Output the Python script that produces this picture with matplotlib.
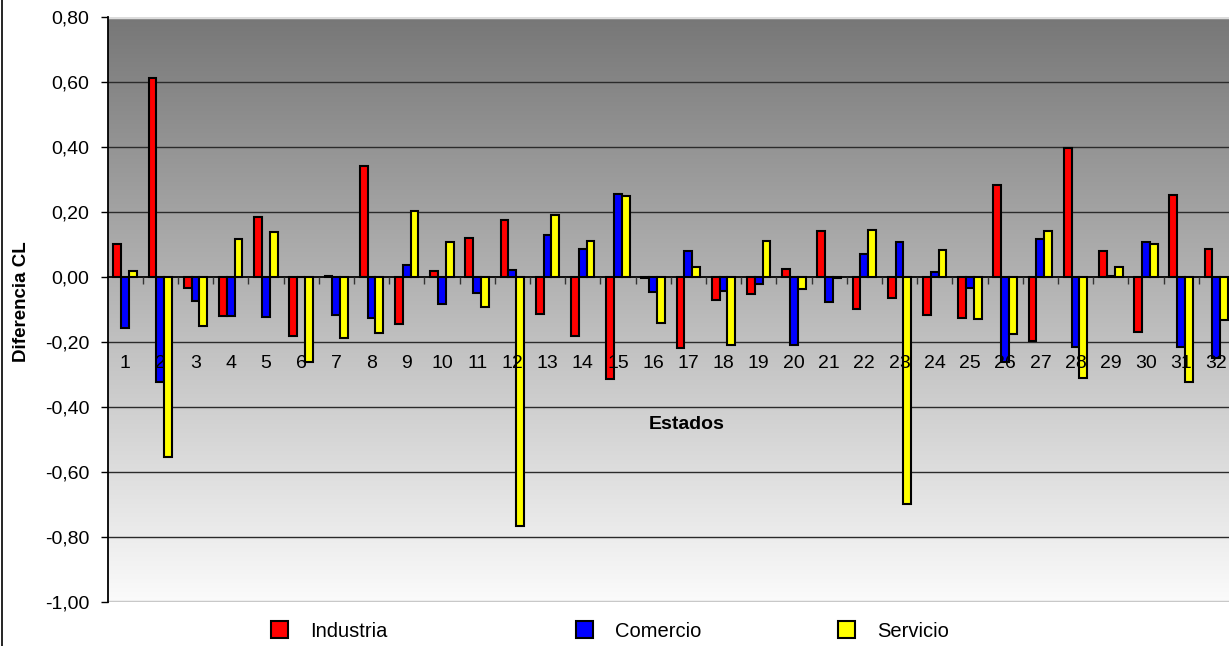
import matplotlib
matplotlib.use("Agg")
import matplotlib.pyplot as plt
import numpy as np
from matplotlib.lines import Line2D
from matplotlib.ticker import FixedLocator, FuncFormatter

estados = [str(i) for i in range(1, 33)]
industria = [0.100, 0.613, -0.034, -0.122, 0.183, -0.181, 0.003, 0.342,
             -0.145, 0.019, 0.120, 0.174, -0.113, -0.183, -0.315, -0.003,
             -0.220, -0.072, -0.054, 0.023, 0.141, -0.100, -0.065, -0.116,
             -0.127, 0.283, -0.196, 0.396, 0.080, -0.170, 0.252, 0.087]
comercio = [-0.156, -0.325, -0.073, -0.122, -0.123, 0.000, -0.118, -0.126,
            0.036, -0.084, -0.049, 0.021, 0.129, 0.086, 0.255, -0.047,
            0.081, -0.045, -0.023, -0.211, -0.078, 0.069, 0.107, 0.016,
            -0.033, -0.262, 0.117, -0.217, 0.003, 0.107, -0.217, -0.251]
servicio = [0.018, -0.554, -0.151, 0.116, 0.138, -0.263, -0.188, -0.174,
            0.203, 0.106, -0.094, -0.766, 0.189, 0.110, 0.249, -0.142,
            0.029, -0.211, 0.110, -0.036, -0.004, 0.144, -0.699, 0.082,
            -0.131, -0.177, 0.142, -0.310, 0.030, 0.102, -0.325, -0.133]
series = ["Industria", "Comercio", "Servicio"]
colores = ["#ff0000", "#0000ff", "#ffff00"]

plt.rcParams["font.family"] = ["Liberation Sans", "DejaVu Sans"]

fig = plt.figure(figsize=(12.29, 6.46), dpi=100)
ax = fig.add_axes([107.5 / 1229, 1 - 601.7 / 646, (1234 - 107.5) / 1229, 584.7 / 646])

ymin, ymax = -1.0, 0.8
ax.set_ylim(ymin, ymax)
ax.set_xlim(0.5, 32.5)

# grey gradient background of the plot area
grad = np.linspace(0, 1, 256).reshape(-1, 1)
cmap = matplotlib.colors.LinearSegmentedColormap.from_list("fondo", ["#fbfbfb", "#777777"])
ax.imshow(grad, cmap=cmap, aspect="auto", extent=[0, 1, 0, 1], origin="lower",
          transform=ax.transAxes, zorder=0)

for v in np.arange(-0.8, 0.81, 0.2):
    if abs(v) > 1e-9:
        ax.axhline(v, color="#2b2b2b", lw=1.0, zorder=1)
ax.axhline(ymin, color="#c8c8c8", lw=2.5, zorder=1)
ax.axhline(ymax, color="#dcdcdc", lw=2.5, zorder=1)

x = np.arange(1, 33)
w = 0.222
handles = []
for k, (vals, col, name) in enumerate(zip([industria, comercio, servicio], colores, series)):
    bars = ax.bar(x + (k - 1) * w, vals, width=w, color=col, edgecolor="black",
                  linewidth=1.5, zorder=2, label=name)
    handles.append(bars)

# category axis at zero, labels drawn over the bars
for s in ["top", "right"]:
    ax.spines[s].set_visible(False)
ax.spines["bottom"].set_position(("data", 0))
ax.spines["bottom"].set_color("black")
ax.spines["bottom"].set_linewidth(1.3)
ax.spines["left"].set_color("black")
ax.spines["left"].set_linewidth(1.3)
ax.xaxis.set_zorder(3)

ax.set_xticks(x)
ax.set_xticklabels(estados, fontsize=14)
ax.xaxis.set_minor_locator(FixedLocator(np.arange(1.5, 32.5, 1.0)))
ax.tick_params(axis="x", which="major", length=0, pad=56)
ax.tick_params(axis="x", which="minor", length=5, direction="out", width=1, color="#333333")


def coma(v, pos):
    if abs(v) < 1e-9:
        v = 0.0
    return f"{v:.2f}".replace(".", ",")


ax.set_yticks(np.round(np.arange(-1.0, 0.81, 0.2), 2))
ax.yaxis.set_major_formatter(FuncFormatter(coma))
ax.tick_params(axis="y", length=5, direction="out", width=1, labelsize=14, pad=8)

ax.set_xlabel("Estados", fontsize=14, fontweight="bold")
ax.xaxis.set_label_coords(0.514, 0.318)
ax.set_ylabel("Diferencia CL", fontsize=13.5, fontweight="bold")
ax.yaxis.set_label_coords(-0.069, 0.513)

# legend entries spread along the bottom
lefts = [271, 576, 838]
for h, name, lx in zip(handles, series, lefts):
    fig.legend([h], [name], loc="center left", bbox_to_anchor=(lx / 1229, 1 - 631 / 646),
               frameon=False, fontsize=14.5, handlelength=0.85, handleheight=0.85,
               handletextpad=1.1, borderpad=0, borderaxespad=0)

fig.add_artist(Line2D([2 / 1229, 2 / 1229], [0, 1], color="black", lw=1.2,
                      transform=fig.transFigure))

fig.savefig("out.png", dpi=100)
